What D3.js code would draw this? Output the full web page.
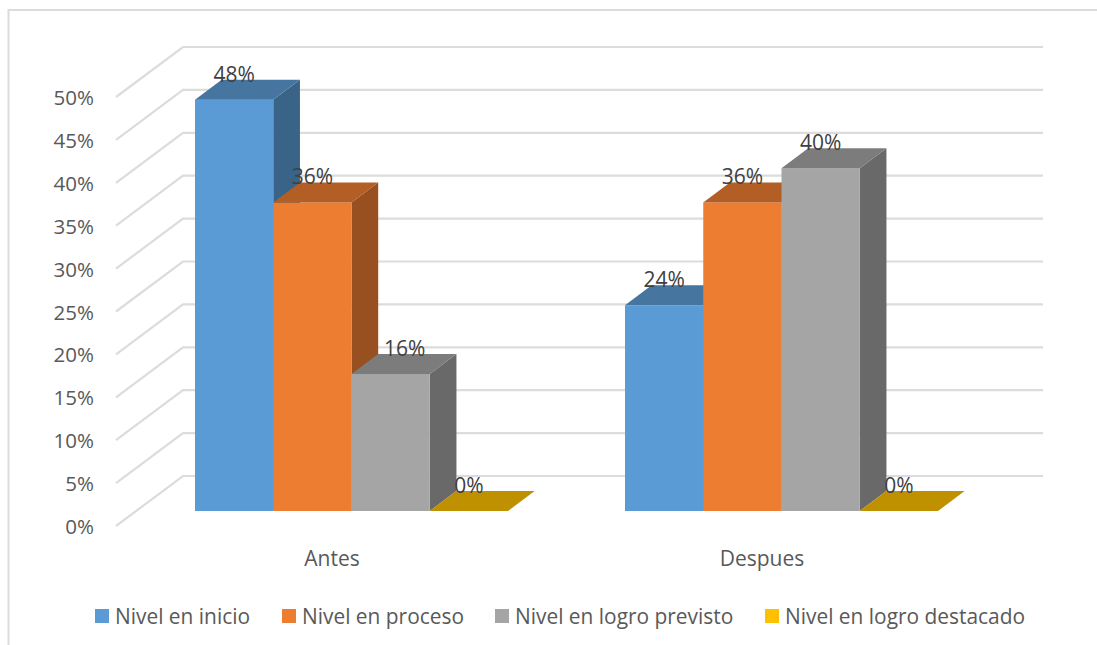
<!DOCTYPE html>
<html><head><meta charset="utf-8">
<script src="https://cdn.jsdelivr.net/npm/d3@7"></script>
<style>html,body{margin:0;padding:0;background:#fff;overflow:hidden}svg{display:block}text{font-family:"Open Sans",sans-serif}</style>
</head><body><svg id="c" width="1097" height="645"></svg>
<script>
const categories = ["Antes", "Despues"];
const seriesNames = ["Nivel en inicio", "Nivel en proceso", "Nivel en logro previsto", "Nivel en logro destacado"];
const antesValues = [48, 36, 16, 0];
const despuesValues = [24, 36, 40, 0];
const tickValues = [0, 5, 10, 15, 20, 25, 30, 35, 40, 45, 50];
const frontColors = ["#5B9BD5", "#ED7D31", "#A5A5A5", "#BF9000"];
const topColors = ["#4675A0", "#B25E25", "#7C7C7C", "#BF9000"];
const sideColors = ["#396387", "#985020", "#696969", "#8F6C00"];
const legendColors = ["#5B9BD5", "#ED7D31", "#A5A5A5", "#FFC000"];

const W = 1097, H = 645;
const svg = d3.select("#c");
const grid = "#DCDCDC";
// frame
svg.append("path").attr("d", `M8.5 645V10H${W}`).attr("fill", "none").attr("stroke", grid).attr("stroke-width", 2);

const depthX = 26.7, depthY = 20;
const y = d3.scaleLinear().domain([0, 50]).range([511, 82.5]);        // bar front plane
const yWall = d3.scaleLinear().domain([0, 50]).range([526, 97]);      // wall front edge
const yBack = d3.scaleLinear().domain([0, 50]).range([476, 47]);      // back plane
const x0 = d3.scaleBand().domain(categories).range([195, 938]).paddingInner(117 / 430).paddingOuter(0);
const x1 = d3.scaleBand().domain(seriesNames).range([0, x0.bandwidth()]);

// gridlines
const gl = svg.append("g").attr("fill", "none").attr("stroke", grid).attr("stroke-width", 2.2);
gl.selectAll("path").data(tickValues).join("path")
  .attr("d", d => `M116 ${yWall(d)}L183 ${yBack(d)}H1043`);

// y axis labels
const yAxis = d3.axisLeft(yWall).tickValues(tickValues).tickSize(0).tickPadding(0).tickFormat(d => d + "%");
const ya = svg.append("g").attr("transform", "translate(94,1)").call(yAxis);
ya.select(".domain").remove();
ya.selectAll("text").attr("font-size", 20.5).attr("fill", "#595959").style("font-family", '"Open Sans",sans-serif');

// bars
const rows = [antesValues, despuesValues];
const marks = [];
categories.forEach((c, i) => rows[i].forEach((v, j) => marks.push({ c, s: seriesNames[j], v, j })));
const bars = svg.append("g");
const bw = x1.bandwidth();
marks.forEach(m => {
  const l = x0(m.c) + x1(m.s), r = l + bw, t = y(m.v), b = y(0);
  const g = bars.append("g");
  if (m.v > 0) {
    g.append("path").attr("fill", sideColors[m.j])
      .attr("d", `M${r} ${t}L${r + depthX} ${t - depthY}V${b - depthY}L${r} ${b}Z`);
    g.append("rect").attr("x", l).attr("y", t).attr("width", bw).attr("height", b - t).attr("fill", frontColors[m.j]);
  }
  g.append("path").attr("fill", topColors[m.j])
    .attr("d", `M${l} ${t}L${l + depthX} ${t - depthY}H${r + depthX}L${r} ${t}Z`);
});

// data labels
const labelShift = { "Antes|Nivel en logro previsto": 14 };
svg.append("g").selectAll("text").data(marks).join("text")
  .attr("x", d => x0(d.c) + x1(d.s) + bw / 2 + (labelShift[d.c + "|" + d.s] || 0))
  .attr("y", d => y(d.v) - 26 + 8)
  .attr("text-anchor", "middle").attr("font-size", 21).attr("fill", "#404040")
  .text(d => d.v + "%");

// category labels
svg.append("g").selectAll("text").data(categories).join("text")
  .attr("x", d => x0(d) + x0.bandwidth() / 2 - 19.5)
  .attr("y", 566).attr("text-anchor", "middle").attr("font-size", 21).attr("fill", "#595959")
  .text(d => d);

// legend
const legendX = d3.scaleOrdinal().domain(seriesNames).range([95, 282, 495, 765]);
const lg = svg.append("g").selectAll("g").data(seriesNames).join("g")
  .attr("transform", d => `translate(${legendX(d)},0)`);
lg.append("rect").attr("y", 609).attr("width", 14).attr("height", 14).attr("fill", (d, i) => legendColors[i]);
lg.append("text").attr("x", 20).attr("y", 624).attr("font-size", 20.9).attr("fill", "#595959").text(d => d);
</script></body></html>
